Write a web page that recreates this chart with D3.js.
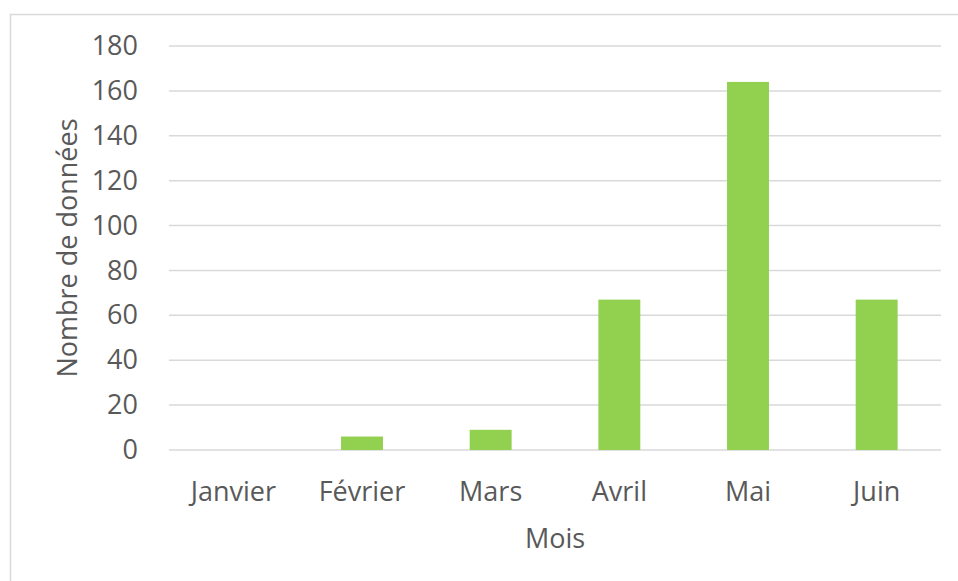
<!DOCTYPE html>
<html>
<head>
<meta charset="utf-8">
<script src="https://cdn.jsdelivr.net/npm/d3@7"></script>
<style>
  body { margin: 0; background: #fff; }
  text { font-family: "Open Sans", sans-serif; fill: #595959; }
</style>
</head>
<body>
<svg id="chart" width="958" height="581"></svg>
<script>
// data
const months = ['Janvier', 'Février', 'Mars', 'Avril', 'Mai', 'Juin']
const counts = [0, 6, 9, 67, 164, 67]
const yTicks = [0, 20, 40, 60, 80, 100, 120, 140, 160, 180]

const margin = { top: 46, left: 169, right: 17, bottom: 131 }
const width = 958 - margin.left - margin.right
const height = 581 - margin.top - margin.bottom
const fontSize = '27px'

const svg = d3.select('#chart')

// outer chart border
svg.append('rect')
  .attr('x', 10.5).attr('y', 14.5)
  .attr('width', 960).attr('height', 600)
  .attr('fill', 'none')
  .attr('stroke', '#d9d9d9')
  .attr('stroke-width', 1.5)

const g = svg.append('g')
  .attr('id', 'graph-g')
  .attr('transform', `translate(${margin.left},${margin.top})`)

const x = d3.scaleBand().domain(months).range([0, width])
  .paddingInner(0.674).paddingOuter(0.337)
const y = d3.scaleLinear().domain([0, 180]).range([height, 0])

// gridlines
g.selectAll('.grid')
  .data(yTicks).join('line')
  .attr('class', 'grid')
  .attr('x1', 0).attr('x2', width)
  .attr('y1', d => y(d)).attr('y2', d => y(d))
  .attr('stroke', '#d9d9d9')
  .attr('stroke-width', 1.5)

// y axis labels
const yAxis = g.append('g')
  .call(d3.axisLeft(y).tickValues(yTicks).tickSize(0).tickPadding(31))
yAxis.select('.domain').remove()
yAxis.selectAll('text')
  .style('font-size', fontSize)
  .attr('fill', '#595959')

// bars
g.selectAll('.bar')
  .data(counts).join('rect')
  .attr('class', 'bar')
  .attr('x', (d, i) => x(months[i]))
  .attr('y', d => y(d))
  .attr('width', x.bandwidth())
  .attr('height', d => y(0) - y(d))
  .attr('fill', '#92d050')

// x axis labels
const xAxis = g.append('g')
  .attr('transform', `translate(0,${height})`)
  .call(d3.axisBottom(x).tickSize(0).tickPadding(32))
xAxis.select('.domain').remove()
xAxis.selectAll('text')
  .style('font-size', fontSize)
  .attr('fill', '#595959')

// axis titles
svg.append('text')
  .attr('x', margin.left + width / 2)
  .attr('y', 548)
  .attr('text-anchor', 'middle')
  .style('font-size', fontSize)
  .text('Mois')

svg.append('text')
  .attr('transform', `translate(77,${margin.top + height / 2}) rotate(-90)`)
  .attr('text-anchor', 'middle')
  .style('font-size', fontSize)
  .text('Nombre de données')
</script>
</body>
</html>
